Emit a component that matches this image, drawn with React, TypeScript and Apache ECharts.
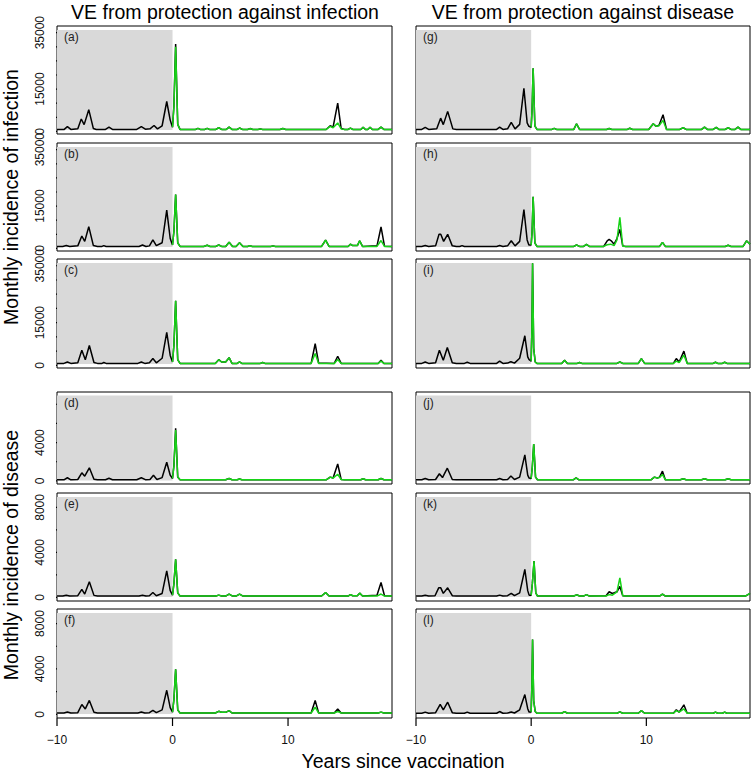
import React, { useEffect, useRef } from "react";
import * as echarts from "echarts";

// ---------- data: [years since vaccination, monthly incidence] ----------
const xTicks = [-10, 0, 10];
const infTicks = [0, 5000, 10000, 15000, 20000, 25000, 30000, 35000];
const infTickLabels = [0, 15000, 35000];
const disTicks = [0, 2000, 4000, 6000, 8000];
const disTickLabels = [0, 4000, 8000];
const disTickLabelsD = [0, 4000];

const aBlack = [[-10,700],[-9.4,650],[-9.1,1700],[-8.8,700],[-8.2,900],[-7.9,4400],[-7.65,2400],[-7.25,7700],[-6.85,1000],[-6.6,700],[-5.8,700],[-5.5,1500],[-5.2,700],[-3.1,700],[-2.7,1700],[-2.35,800],[-1.95,900],[-1.6,2100],[-1.3,900],[-0.9,2000],[-0.5,10600],[-0.2,4000],[0,1500],
  [0.12,9000],[0.27,31000],[0.45,2500],[0.65,700],[2.0,700],[2.2,1100],[2.4,700],[2.8,700],[3.0,1100],[3.2,700],[3.75,700],[4.0,1300],[4.25,700],[4.65,700],[4.9,1500],[5.15,700],[5.6,700],[5.8,1200],[6.05,700],[6.5,700],[6.7,1000],[6.95,700],[7.4,700],[7.6,900],[7.8,700],[9.3,700],[9.55,1000],[9.8,700],[13.3,700],[13.65,2000],[13.9,1500],[14.3,10000],[14.6,1000],[14.9,700],[15.2,700],[15.4,1200],[15.6,700],[16.3,700],[16.5,1500],[16.7,700],[16.9,700],[17.1,1500],[17.3,700],[17.8,700],[18.05,1500],[18.3,700],[19,700]];
const aGreen = [[0,1500],[0.12,8500],[0.27,30000],[0.45,2500],[0.65,700],[2.0,700],[2.2,1100],[2.4,700],[2.8,700],[3.0,1100],[3.2,700],[3.75,700],[4.0,1300],[4.25,700],[4.65,700],[4.9,1500],[5.15,700],[5.6,700],[5.8,1200],[6.05,700],[6.5,700],[6.7,1000],[6.95,700],[7.4,700],[7.6,900],[7.8,700],[9.3,700],[9.55,1000],[9.8,700],[13.3,700],[13.65,1800],[13.9,1300],[14.3,3000],[14.6,900],[14.9,700],[15.2,700],[15.4,1200],[15.6,700],[16.3,700],[16.5,1500],[16.7,700],[16.9,700],[17.1,1500],[17.3,700],[17.8,700],[18.05,1500],[18.3,700],[19,700]];

const bBlack = [[-10,700],[-9.5,700],[-9.2,1000],[-8.9,700],[-8.2,900],[-7.85,4400],[-7.6,2500],[-7.25,7700],[-6.85,1000],[-6.5,700],[-6.1,700],[-5.95,1000],[-5.75,700],[-2.9,700],[-2.6,1200],[-2.3,700],[-2.0,900],[-1.7,3000],[-1.4,1000],[-0.9,2000],[-0.5,13600],[-0.2,3500],[0,1200],
  [0.12,6000],[0.27,19100],[0.45,2000],[0.65,700],[2.7,700],[3.0,1100],[3.25,700],[3.75,700],[4.0,1200],[4.25,700],[4.6,700],[4.9,2200],[5.2,700],[5.5,700],[5.8,2000],[6.1,700],[6.5,700],[6.7,1000],[6.9,700],[8.5,700],[8.7,900],[8.9,700],[12.9,700],[13.25,2900],[13.55,700],[15.2,700],[15.4,1500],[15.6,1000],[16.0,1000],[16.2,2700],[16.45,700],[17.7,900],[18.05,7600],[18.35,800],[19,700]];
const bGreen = [[0,1200],[0.12,6000],[0.27,19100],[0.45,2000],[0.65,700],[2.7,700],[3.0,1100],[3.25,700],[3.75,700],[4.0,1200],[4.25,700],[4.6,700],[4.9,2200],[5.2,700],[5.5,700],[5.8,2000],[6.1,700],[6.5,700],[6.7,1000],[6.9,700],[8.5,700],[8.7,900],[8.9,700],[12.9,700],[13.25,2900],[13.55,700],[15.2,700],[15.4,1500],[15.6,1000],[16.0,1000],[16.2,2700],[16.45,700],[17.7,700],[18.05,2800],[18.35,700],[19,700]];

const cBlack = [[-10,700],[-9.4,700],[-9.1,1200],[-8.8,700],[-8.2,900],[-7.85,5300],[-7.55,2000],[-7.2,7000],[-6.8,1000],[-6.5,700],[-6.1,700],[-5.95,1000],[-5.75,700],[-3.0,700],[-2.7,1200],[-2.4,700],[-2.0,900],[-1.7,2400],[-1.4,900],[-0.9,2500],[-0.5,11600],[-0.2,3500],[0,1200],
  [0.12,7000],[0.27,22700],[0.45,2000],[0.65,700],[3.7,700],[4.0,2000],[4.25,1200],[4.6,1200],[4.9,2700],[5.15,700],[5.6,700],[5.8,1200],[6.0,700],[7.6,700],[7.8,1000],[8.0,700],[12.0,700],[12.35,7600],[12.65,800],[14.0,700],[14.3,3200],[14.6,700],[17.8,700],[18.05,1800],[18.3,700],[19,700]];
const cGreen = [[0,1200],[0.12,7000],[0.27,22700],[0.45,2000],[0.65,700],[3.7,700],[4.0,2000],[4.25,1200],[4.6,1200],[4.9,2700],[5.15,700],[5.6,700],[5.8,1200],[6.0,700],[7.6,700],[7.8,1000],[8.0,700],[12.0,700],[12.35,4200],[12.65,700],[14.0,700],[14.3,2100],[14.6,700],[17.8,700],[18.05,1500],[18.3,700],[19,700]];

const dBlack = [[-10,120],[-9.4,120],[-9.1,330],[-8.8,120],[-8.2,150],[-7.85,850],[-7.6,500],[-7.2,1370],[-6.8,180],[-6.5,120],[-5.8,120],[-5.5,280],[-5.2,120],[-3.1,120],[-2.7,330],[-2.35,130],[-1.95,150],[-1.65,600],[-1.35,150],[-0.9,350],[-0.5,1950],[-0.2,600],[0,250],
  [0.12,1600],[0.27,5500],[0.45,400],[0.65,120],[4.6,120],[4.9,250],[5.15,120],[5.6,120],[5.8,200],[6.0,120],[13.3,120],[13.65,400],[13.9,300],[14.3,1770],[14.6,150],[14.9,120],[16.3,120],[16.5,250],[16.7,120],[17.8,120],[18.05,250],[18.3,120],[19,120]];
const dGreen = [[0,250],[0.12,1500],[0.27,5300],[0.45,400],[0.65,120],[4.6,120],[4.9,250],[5.15,120],[5.6,120],[5.8,200],[6.0,120],[13.3,120],[13.65,400],[13.9,300],[14.3,700],[14.6,150],[14.9,120],[16.3,120],[16.5,250],[16.7,120],[17.8,120],[18.05,250],[18.3,120],[19,120]];

const eBlack = [[-10,120],[-9.5,120],[-9.2,200],[-8.9,120],[-8.2,150],[-7.85,710],[-7.6,300],[-7.2,1390],[-6.8,180],[-6.5,120],[-2.9,120],[-2.6,200],[-2.3,120],[-2.0,150],[-1.7,440],[-1.4,150],[-0.9,350],[-0.5,2360],[-0.2,600],[0,200],
  [0.12,1200],[0.27,3380],[0.45,400],[0.65,120],[3.75,120],[4.0,200],[4.25,120],[4.6,120],[4.9,300],[5.2,120],[5.5,120],[5.8,300],[6.1,120],[12.9,120],[13.25,430],[13.55,120],[15.2,120],[15.4,250],[15.6,150],[16.0,150],[16.2,380],[16.45,120],[17.7,200],[18.05,1330],[18.35,150],[19,120]];
const eGreen = [[0,200],[0.12,1200],[0.27,3380],[0.45,400],[0.65,120],[3.75,120],[4.0,200],[4.25,120],[4.6,120],[4.9,300],[5.2,120],[5.5,120],[5.8,300],[6.1,120],[12.9,120],[13.25,430],[13.55,120],[15.2,120],[15.4,250],[15.6,150],[16.0,150],[16.2,380],[16.45,120],[17.7,120],[18.05,300],[18.35,120],[19,120]];

const fBlack = [[-10,120],[-9.4,120],[-9.1,200],[-8.8,120],[-8.2,150],[-7.85,870],[-7.55,480],[-7.2,1230],[-6.8,180],[-6.5,120],[-3.0,120],[-2.7,200],[-2.4,120],[-2.0,150],[-1.7,350],[-1.4,150],[-0.9,400],[-0.5,2120],[-0.2,600],[0,200],
  [0.12,1300],[0.27,3970],[0.45,400],[0.65,120],[3.7,120],[4.0,270],[4.25,180],[4.6,180],[4.9,330],[5.15,120],[12.0,120],[12.35,1230],[12.65,130],[14.0,120],[14.3,480],[14.6,120],[17.8,120],[18.05,200],[18.3,120],[19,120]];
const fGreen = [[0,200],[0.12,1300],[0.27,3970],[0.45,400],[0.65,120],[3.7,120],[4.0,270],[4.25,180],[4.6,180],[4.9,330],[5.15,120],[12.0,120],[12.35,630],[12.65,120],[14.0,120],[14.3,250],[14.6,120],[17.8,120],[18.05,200],[18.3,120],[19,120]];

const gBlack = [[-10,700],[-9.5,700],[-9.2,1400],[-8.9,700],[-8.2,900],[-7.86,4700],[-7.63,2400],[-7.25,7100],[-6.8,900],[-6.5,700],[-3.0,700],[-2.74,1500],[-2.45,700],[-2.05,900],[-1.73,3200],[-1.4,900],[-1.0,2500],[-0.63,15300],[-0.35,3000],[-0.2,1800],[0,1500],
  [0.08,8000],[0.17,22400],[0.32,2000],[0.5,700],[1.8,700],[2.0,1100],[2.2,700],[3.7,700],[3.94,2700],[4.2,700],[6.55,700],[6.77,1000],[7.0,700],[8.35,700],[8.56,1100],[8.8,700],[10.2,700],[10.6,2700],[10.85,1800],[11.1,2200],[11.45,5900],[11.75,700],[12.9,700],[13.2,1300],[13.45,700],[14.8,700],[15.05,1500],[15.3,700],[15.8,700],[16.07,1400],[16.3,700],[16.85,700],[17.1,1300],[17.35,700],[17.7,700],[17.96,1500],[18.2,700],[19,700]];
const gGreen = [[0,1500],[0.08,8000],[0.17,22400],[0.32,2000],[0.5,700],[1.8,700],[2.0,1100],[2.2,700],[3.7,700],[3.94,2700],[4.2,700],[6.55,700],[6.77,1000],[7.0,700],[8.35,700],[8.56,1100],[8.8,700],[10.2,700],[10.6,2700],[10.85,1800],[11.1,2000],[11.45,3900],[11.75,700],[12.9,700],[13.2,1300],[13.45,700],[14.8,700],[15.05,1500],[15.3,700],[15.8,700],[16.07,1400],[16.3,700],[16.85,700],[17.1,1300],[17.35,700],[17.7,700],[17.96,1500],[18.2,700],[19,700]];

const hBlack = [[-10,700],[-9.5,700],[-9.2,1000],[-8.9,700],[-8.3,900],[-8.0,5000],[-7.85,5000],[-7.6,2500],[-7.25,5000],[-6.85,900],[-6.5,700],[-6.2,700],[-6.0,1000],[-5.8,700],[-3.0,700],[-2.74,1000],[-2.45,700],[-2.05,900],[-1.73,2700],[-1.4,900],[-1.0,2500],[-0.63,13800],[-0.35,3000],[-0.2,1200],[0,1200],
  [0.08,6000],[0.17,18300],[0.32,2000],[0.5,700],[3.7,700],[3.94,1200],[4.2,700],[4.55,700],[4.8,1400],[5.05,700],[6.3,700],[6.6,2700],[6.77,3200],[6.95,2700],[7.2,1500],[7.45,3500],[7.7,6750],[7.95,900],[8.2,700],[11.15,700],[11.4,2100],[11.65,700],[16.85,700],[17.1,1100],[17.35,700],[18.4,700],[18.7,2700],[19,1500]];
const hGreen = [[0,1200],[0.08,6000],[0.17,18300],[0.32,2000],[0.5,700],[3.7,700],[3.94,1200],[4.2,700],[4.55,700],[4.8,1400],[5.05,700],[6.3,700],[6.6,1300],[6.9,1500],[7.2,1000],[7.45,3000],[7.7,11000],[7.95,800],[8.2,700],[11.15,700],[11.4,2100],[11.65,700],[16.85,700],[17.1,1100],[17.35,700],[18.4,700],[18.7,2700],[19,1500]];

const iBlack = [[-10,700],[-9.5,700],[-9.2,1200],[-8.9,700],[-8.3,900],[-7.97,5300],[-7.63,1800],[-7.28,6300],[-6.85,900],[-6.5,700],[-5.8,700],[-5.55,1100],[-5.3,700],[-3.0,700],[-2.74,1500],[-2.45,700],[-2.05,800],[-1.76,1300],[-1.45,800],[-1.0,2500],[-0.55,10400],[-0.3,3000],[-0.18,2000],[0,1500],
  [0.06,12000],[0.12,35900],[0.22,6000],[0.35,1200],[0.5,700],[2.65,700],[2.9,1800],[3.15,700],[4.0,700],[4.2,1000],[4.4,700],[7.45,700],[7.7,1200],[7.95,700],[9.3,700],[9.57,2400],[9.85,700],[12.35,700],[12.6,2400],[12.85,1200],[13.26,5000],[13.55,700],[15.8,700],[16.0,1100],[16.2,700],[16.6,700],[16.8,1100],[17.0,700],[19,700]];
const iGreen = [[0,1500],[0.06,12000],[0.12,35900],[0.22,6000],[0.35,1200],[0.5,700],[2.65,700],[2.9,1800],[3.15,700],[4.0,700],[4.2,1000],[4.4,700],[7.45,700],[7.7,1200],[7.95,700],[9.3,700],[9.57,2400],[9.85,700],[12.35,700],[12.6,1500],[12.85,1000],[13.26,3600],[13.55,700],[15.8,700],[16.0,1100],[16.2,700],[16.6,700],[16.8,1100],[17.0,700],[19,700]];

const jBlack = [[-10,120],[-9.5,120],[-9.2,250],[-8.9,120],[-8.3,150],[-7.97,750],[-7.7,350],[-7.28,1330],[-6.85,150],[-6.5,120],[-3.0,120],[-2.74,250],[-2.45,120],[-2.05,150],[-1.76,510],[-1.45,150],[-1.0,400],[-0.55,2720],[-0.3,600],[-0.18,300],[0,250],
  [0.1,1500],[0.22,3850],[0.38,400],[0.55,120],[3.65,120],[3.9,320],[4.15,120],[10.4,120],[10.7,400],[10.95,300],[11.15,400],[11.4,1020],[11.65,120],[12.95,120],[13.2,220],[13.45,120],[14.8,120],[15.05,230],[15.3,120],[16.85,120],[17.1,220],[17.35,120],[19,120]];
const jGreen = [[0,250],[0.1,1500],[0.22,3850],[0.38,400],[0.55,120],[3.65,120],[3.9,320],[4.15,120],[10.4,120],[10.7,400],[10.95,300],[11.15,350],[11.4,680],[11.65,120],[12.95,120],[13.2,220],[13.45,120],[14.8,120],[15.05,230],[15.3,120],[16.85,120],[17.1,220],[17.35,120],[19,120]];

const kBlack = [[-10,120],[-9.5,120],[-9.2,200],[-8.9,120],[-8.35,150],[-8.03,850],[-7.85,850],[-7.63,360],[-7.25,850],[-6.85,150],[-6.5,120],[-3.0,120],[-2.74,200],[-2.45,120],[-2.05,150],[-1.73,360],[-1.45,150],[-1.0,400],[-0.55,2490],[-0.3,600],[-0.18,200],[0,200],
  [0.1,1200],[0.25,3230],[0.4,400],[0.55,120],[3.7,120],[3.94,230],[4.2,120],[4.55,120],[4.8,250],[5.05,120],[6.5,150],[6.77,500],[7.05,350],[7.45,500],[7.7,980],[7.95,150],[8.2,120],[11.15,120],[11.4,300],[11.65,120],[18.6,120],[19,360]];
const kGreen = [[0,200],[0.1,1200],[0.25,3230],[0.4,400],[0.55,120],[3.7,120],[3.94,230],[4.2,120],[4.55,120],[4.8,250],[5.05,120],[6.5,120],[6.77,250],[7.05,200],[7.45,500],[7.7,1740],[7.95,150],[8.2,120],[11.15,120],[11.4,300],[11.65,120],[18.6,120],[19,360]];

const lBlack = [[-10,100],[-9.5,100],[-9.2,200],[-8.9,100],[-8.3,150],[-7.9,870],[-7.63,390],[-7.25,1070],[-6.85,150],[-6.5,100],[-5.8,100],[-5.55,200],[-5.3,100],[-3.0,100],[-2.74,250],[-2.45,100],[-2.05,120],[-1.73,200],[-1.45,120],[-1.0,400],[-0.55,1740],[-0.3,500],[-0.18,200],[0,200],
  [0.06,2500],[0.12,6600],[0.22,1200],[0.35,250],[0.5,100],[2.65,100],[2.9,250],[3.15,100],[7.45,100],[7.7,220],[7.95,100],[9.3,100],[9.57,330],[9.85,100],[12.35,100],[12.6,400],[12.85,200],[13.26,840],[13.55,100],[15.8,100],[16.0,200],[16.2,100],[16.6,100],[16.8,200],[17.0,100],[19,100]];
const lGreen = [[0,200],[0.06,2500],[0.12,6600],[0.22,1200],[0.35,250],[0.5,100],[2.65,100],[2.9,250],[3.15,100],[7.45,100],[7.7,220],[7.95,100],[9.3,100],[9.57,330],[9.85,100],[12.35,100],[12.6,330],[12.85,200],[13.26,480],[13.55,100],[15.8,100],[16.0,200],[16.2,100],[16.6,100],[16.8,200],[17.0,100],[19,100]];

const panelLabels = ["(a)","(b)","(c)","(d)","(e)","(f)","(g)","(h)","(i)","(j)","(k)","(l)"];
const blackSeries = [aBlack,bBlack,cBlack,dBlack,eBlack,fBlack,gBlack,hBlack,iBlack,jBlack,kBlack,lBlack];
const greenSeries = [aGreen,bGreen,cGreen,dGreen,eGreen,fGreen,gGreen,hGreen,iGreen,jGreen,kGreen,lGreen];
const colTitles = ["VE from protection against infection", "VE from protection against disease"];
const rowTitles = ["Monthly incidence of infection", "Monthly incidence of disease"];
const xTitle = "Years since vaccination";

// axis ranges (data range padded as in the original)
const X_MIN = -10, X_MAX = 19;
const infRange = { min: -920, max: 37370, lo: 500, hi: 35950 };
const disRange = { min: -320, max: 9280, lo: 35, hi: 8925 };

// ---------- layout ----------
const ROWS = [
  { top: 26, h: 108 }, { top: 143, h: 108 }, { top: 259, h: 109 },
  { top: 392, h: 92 }, { top: 493, h: 108 }, { top: 609, h: 109 },
];
const COLS = [{ left: 57, w: 335 }, { left: 416, w: 334 }];
const FF = "'Liberation Sans', Arial, Helvetica, sans-serif";
const GREEN = "#17d317";
const Y_TICK_LEN = 8;
const X_TICK_LEN = 8;
const GAP: any = ["-", "-"];

export default function App() {
  const ref = useRef<HTMLDivElement>(null);
  useEffect(() => {
    if (!ref.current) return;
    const chart = echarts.init(ref.current, null, { renderer: "svg" });
    const grid: any[] = [], xAxis: any[] = [], yAxis: any[] = [], series: any[] = [], graphic: any[] = [];
    for (let p = 0; p < 12; p++) {
      const col = p < 6 ? 0 : 1;
      const row = p % 6;
      const isInf = row < 3;
      const R = isInf ? infRange : disRange;
      const { left, w } = COLS[col];
      const { top, h } = ROWS[row];
      grid.push({ left, top, width: w, height: h, show: true, borderColor: "#000", borderWidth: 1, backgroundColor: "transparent", containLabel: false });
      const bottom = row === 5;
      xAxis.push({
        type: "value", gridIndex: p, min: X_MIN, max: X_MAX, position: "bottom",
        axisLine: { show: false, onZero: false }, splitLine: { show: false }, axisTick: { show: false },
        axisLabel: { show: bottom, customValues: xTicks, margin: 16, fontSize: 12, color: "#111", fontFamily: FF,
          formatter: (v: number) => String(v).replace("-", "\u2212") },
      });
      const showY = col === 0;
      const tickLabs = isInf ? infTickLabels : row === 3 ? disTickLabelsD : disTickLabels;
      yAxis.push({
        type: "value", gridIndex: p, min: R.min, max: R.max, position: "left",
        axisLine: { show: false, onZero: false }, splitLine: { show: false }, axisTick: { show: false },
        axisLabel: { show: showY, customValues: tickLabs, rotate: 90, margin: 11, fontSize: 12, color: "#111", fontFamily: FF,
          formatter: (v: number) => String(v) },
      });
      series.push({
        type: "line", xAxisIndex: p, yAxisIndex: p, data: [], z: 1, silent: true,
        markArea: { silent: true, itemStyle: { color: "#d9d9d9", borderWidth: 0 }, label: { show: false },
          data: [[{ xAxis: X_MIN, yAxis: R.lo }, { xAxis: 0, yAxis: R.hi }]] },
      });
      series.push({
        type: "line", xAxisIndex: p, yAxisIndex: p, data: blackSeries[p], z: 2,
        showSymbol: false, symbol: "none", lineStyle: { color: "#000", width: 1.5 }, silent: true,
      });
      series.push({
        type: "line", xAxisIndex: p, yAxisIndex: p, data: greenSeries[p], z: 3,
        showSymbol: false, symbol: "none", lineStyle: { color: GREEN, width: 1.5 }, silent: true,
      });
      // y-axis tick marks as an unclipped line series (tick values from the tick arrays)
      if (showY) {
        const dx = (Y_TICK_LEN * (X_MAX - X_MIN)) / w;
        const tickData: any[] = [];
        (isInf ? infTicks : disTicks).forEach((v) => { tickData.push([X_MIN - dx, v], [X_MIN, v], GAP); });
        series.push({
          type: "line", xAxisIndex: p, yAxisIndex: p, data: tickData, z: 5, clip: false, silent: true,
          connectNulls: false, showSymbol: false, symbol: "none", lineStyle: { color: "#000", width: 1.2 },
        });
      }
      // x-axis tick marks on the bottom row
      if (bottom) {
        const dy = (X_TICK_LEN * (R.max - R.min)) / h;
        const tickData: any[] = [];
        xTicks.forEach((v) => { tickData.push([v, R.min], [v, R.min - dy], GAP); });
        series.push({
          type: "line", xAxisIndex: p, yAxisIndex: p, data: tickData, z: 5, clip: false, silent: true,
          connectNulls: false, showSymbol: false, symbol: "none", lineStyle: { color: "#000", width: 1.2 },
        });
      }
      graphic.push({ type: "text", id: "lab" + p, x: left + 7, y: top + 11, z: 10,
        style: { text: panelLabels[p], fontSize: 12, fontFamily: FF, fill: "#222", align: "left", verticalAlign: "middle" } });
    }
    graphic.push({ type: "text", id: "t0", x: 225, y: 12, style: { text: colTitles[0], fontSize: 19.5, fontFamily: FF, fill: "#000", align: "center", verticalAlign: "middle" } });
    graphic.push({ type: "text", id: "t1", x: 583, y: 12, style: { text: colTitles[1], fontSize: 19.5, fontFamily: FF, fill: "#000", align: "center", verticalAlign: "middle" } });
    graphic.push({ type: "text", id: "r0", x: 11, y: 197, rotation: Math.PI / 2, style: { text: rowTitles[0], fontSize: 19.5, fontFamily: FF, fill: "#000", align: "center", verticalAlign: "middle" } });
    graphic.push({ type: "text", id: "r1", x: 11, y: 555, rotation: Math.PI / 2, style: { text: rowTitles[1], fontSize: 19.5, fontFamily: FF, fill: "#000", align: "center", verticalAlign: "middle" } });
    graphic.push({ type: "text", id: "xt", x: 403, y: 761, style: { text: xTitle, fontSize: 19.5, fontFamily: FF, fill: "#000", align: "center", verticalAlign: "middle" } });

    chart.setOption({ animation: false, textStyle: { fontFamily: FF }, grid, xAxis, yAxis, series, graphic });
    return () => chart.dispose();
  }, []);
  return <div ref={ref} style={{ position: "absolute", left: 0, top: 0, width: 751, height: 771, background: "#fff" }} />;
}
